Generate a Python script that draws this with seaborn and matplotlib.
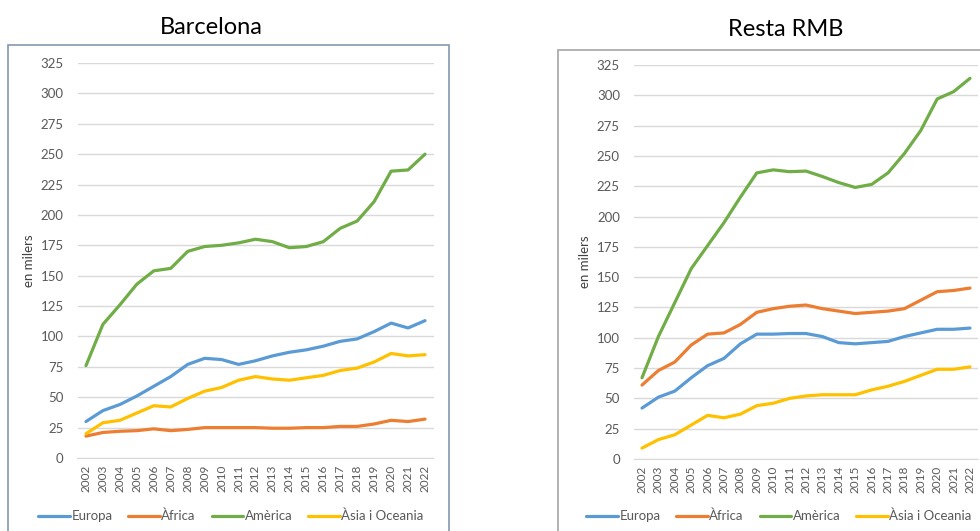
import matplotlib
matplotlib.use('Agg')
import matplotlib.pyplot as plt
from matplotlib.patches import Rectangle
import seaborn as sns
import pandas as pd

years = list(range(2002, 2023))
regions = ['Europa', 'Àfrica', 'Amèrica', 'Àsia i Oceania']
colors = ['#5B9BD5', '#ED7D31', '#70AD47', '#FFC000']

# Barcelona (en milers)
bcn_europa = [30, 39, 44, 51, 59, 67, 77, 82, 81, 77, 80, 84, 87, 89, 92, 96, 98, 104, 111, 107, 113]
bcn_africa = [18, 21, 22, 22.5, 24, 22.5, 23.5, 25, 25, 25, 25, 24.5, 24.5, 25, 25, 26, 26, 28, 31, 30, 32]
bcn_america = [76, 110, 126, 143, 154, 156, 170, 174, 175, 177, 180, 178, 173, 174, 178, 189, 195, 211, 236, 237, 250]
bcn_asia = [20, 29, 31, 37, 43, 42, 49, 55, 58, 64, 67, 65, 64, 66, 68, 72, 74, 79, 86, 84, 85]

# Resta RMB (en milers)
rmb_europa = [42, 51, 56, 67, 77, 83, 95, 103, 103, 103.5, 103.5, 101, 96, 95, 96, 97, 101, 104, 107, 107, 108]
rmb_africa = [61, 73, 80, 94, 103, 104, 111, 121, 124, 126, 127, 124, 122, 120, 121, 122, 124, 131, 138, 139, 141]
rmb_america = [67, 101, 129, 157, 176, 195, 216, 236, 238.5, 237, 237.5, 233, 228, 224, 226.5, 236, 252, 271, 297, 303, 314]
rmb_asia = [9, 16, 20, 28, 36, 34, 37, 44, 46, 50, 52, 53, 53, 53, 57, 60, 64, 69, 74, 74, 76]

yticks = list(range(0, 326, 25))


def to_long(series):
    rows = []
    for name, vals in zip(regions, series):
        for yr, v in zip(years, vals):
            rows.append({'any': yr, 'regio': name, 'valor': v})
    return pd.DataFrame(rows)


sns.set_style('white')
plt.rcParams['font.family'] = ['Lato', 'DejaVu Sans']

W, H = 980, 531
fig = plt.figure(figsize=(9.8, 5.31), dpi=100)

# panel frames
fig.patches.append(Rectangle((8 / W, -0.01), (449 - 8) / W, (531 - 45) / H + 0.01,
                             transform=fig.transFigure, fill=False,
                             edgecolor='#8497B0', linewidth=1.2))
fig.patches.append(Rectangle((558 / W, -0.01), 0.6, (531 - 50) / H + 0.01,
                             transform=fig.transFigure, fill=False,
                             edgecolor='#A6A6A6', linewidth=1.2))

# title, series, plot area (px), title pos, legend centre x
panels = [
    ('Barcelona', [bcn_europa, bcn_africa, bcn_america, bcn_asia],
     [77.5, 458, 433.5, 63], 211, 28, 231),
    ('Resta RMB', [rmb_europa, rmb_africa, rmb_america, rmb_asia],
     [633.8, 459, 978.2, 65], 786, 30, 779),
]

for title, series, (x0, yb, x1, yt), tx, ty, lx in panels:
    ax = fig.add_axes([x0 / W, (H - yb) / H, (x1 - x0) / W, (yb - yt) / H])
    df = to_long(series)
    sns.lineplot(data=df, x='any', y='valor', hue='regio', hue_order=regions,
                 palette=colors, linewidth=2.3, ax=ax, legend=False)
    ax.set_xlim(2001.5, 2022.5)
    ax.set_ylim(0, 325)
    ax.set_yticks(yticks)
    ax.set_xticks(years)
    ax.set_xticklabels([str(y) for y in years], rotation=90)
    ax.tick_params(axis='y', length=0, labelsize=9.5, labelcolor='#595959', pad=10)
    ax.tick_params(axis='x', length=0, labelsize=8.5, labelcolor='#595959', pad=5)
    ax.grid(axis='y', color='#D9D9D9', linewidth=1)
    ax.set_axisbelow(True)
    for s in ['top', 'right', 'left']:
        ax.spines[s].set_visible(False)
    ax.spines['bottom'].set_color('#D9D9D9')
    ax.set_xlabel('')
    ax.set_ylabel('en milers', fontsize=9.5, color='#404040', labelpad=4)
    fig.text(tx / W, 1 - ty / H, title, ha='center', va='center', fontsize=17, color='black')

    handles = [plt.Line2D([], [], color=c, linewidth=2.3) for c in colors]
    fig.legend(handles, regions, loc='center', bbox_to_anchor=(lx / W, 1 - 516 / H),
               ncol=4, frameon=False, fontsize=9.5, handlelength=2.4, handletextpad=0.1,
               columnspacing=1.2, labelcolor='#595959', borderpad=0)

fig.savefig('out.png', dpi=100)
